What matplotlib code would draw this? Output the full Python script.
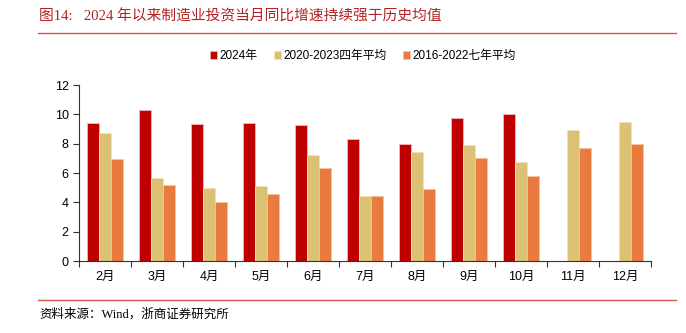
import matplotlib
matplotlib.use("Agg")
import matplotlib.pyplot as plt
import numpy as np

plt.rcParams['font.family'] = ['Liberation Sans', 'Noto Sans CJK SC', 'DejaVu Sans']

months = ['2月', '3月', '4月', '5月', '6月', '7月', '8月', '9月', '10月', '11月', '12月']
y2024 = [9.4, 10.3, 9.35, 9.4, 9.3, 8.35, 7.95, 9.75, 10.05, np.nan, np.nan]
avg_2020_2023 = [8.7, 5.65, 4.95, 5.1, 7.2, 4.45, 7.45, 7.9, 6.75, 8.9, 9.45]
avg_2016_2022 = [6.95, 5.2, 4.05, 4.55, 6.35, 4.4, 4.9, 7.05, 5.8, 7.7, 7.95]
series_names = ['2024年', '2020-2023四年平均', '2016-2022七年平均']
colors = ['#C00000', '#DCC174', '#EA7B3F']
edges = ['#F2B8B8', '#F2E2B8', '#F6C3A6']

fig = plt.figure(figsize=(6.86, 3.33), dpi=100)
ax = fig.add_axes([79 / 686, 1 - 261 / 333, 572 / 686, 176 / 333])

x = np.arange(len(months))
w = 0.225
for i, (vals, name) in enumerate(zip([y2024, avg_2020_2023, avg_2016_2022], series_names)):
    ax.bar(x + (i - 1) * w, vals, width=w, color=colors[i], edgecolor=edges[i],
           linewidth=0.6, label=name)

ax.set_xlim(-0.5, len(months) - 0.5)
ax.set_ylim(0, 12)
ax.set_yticks(range(0, 13, 2))
ax.set_xticks(np.arange(-0.5, len(months), 1.0))
ax.set_xticklabels([])
ax.set_xticks(x, minor=True)
ax.set_xticklabels(months, minor=True)
ax.tick_params(axis='x', which='minor', length=0, pad=7, labelsize=9)
ax.tick_params(axis='x', which='major', length=4, direction='out', color='#333333')
ax.tick_params(axis='y', length=4, labelsize=9, color='#333333')
for s in ['top', 'right']:
    ax.spines[s].set_visible(False)
ax.spines['left'].set_color('#333333')
ax.spines['bottom'].set_color('#333333')

fig.legend(loc='center', bbox_to_anchor=(363 / 686, 1 - 56 / 333), ncol=3, frameon=False,
           fontsize=8.5, handlelength=0.6, handleheight=0.6, handletextpad=0.2,
           columnspacing=1.4)

# header and footer
serif_cjk = ['Liberation Serif', 'Noto Sans CJK SC', 'DejaVu Sans']
fig.text(39 / 686, 1 - 16 / 333, '图14:   2024 年以来制造业投资当月同比增速持续强于历史均值',
         color='#B22222', fontsize=10.6, va='center', ha='left', family=serif_cjk)
fig.add_artist(plt.Line2D([38 / 686, 676 / 686], [1 - 33 / 333, 1 - 33 / 333],
                          color='#D9534F', linewidth=1))
fig.add_artist(plt.Line2D([38 / 686, 676 / 686], [1 - 300 / 333, 1 - 300 / 333],
                          color='#D9534F', linewidth=1))
fig.text(39 / 686, 1 - 314 / 333, '资料来源：Wind，浙商证券研究所', fontsize=9,
         va='center', ha='left', family=serif_cjk)

fig.savefig('out.png', dpi=100)
